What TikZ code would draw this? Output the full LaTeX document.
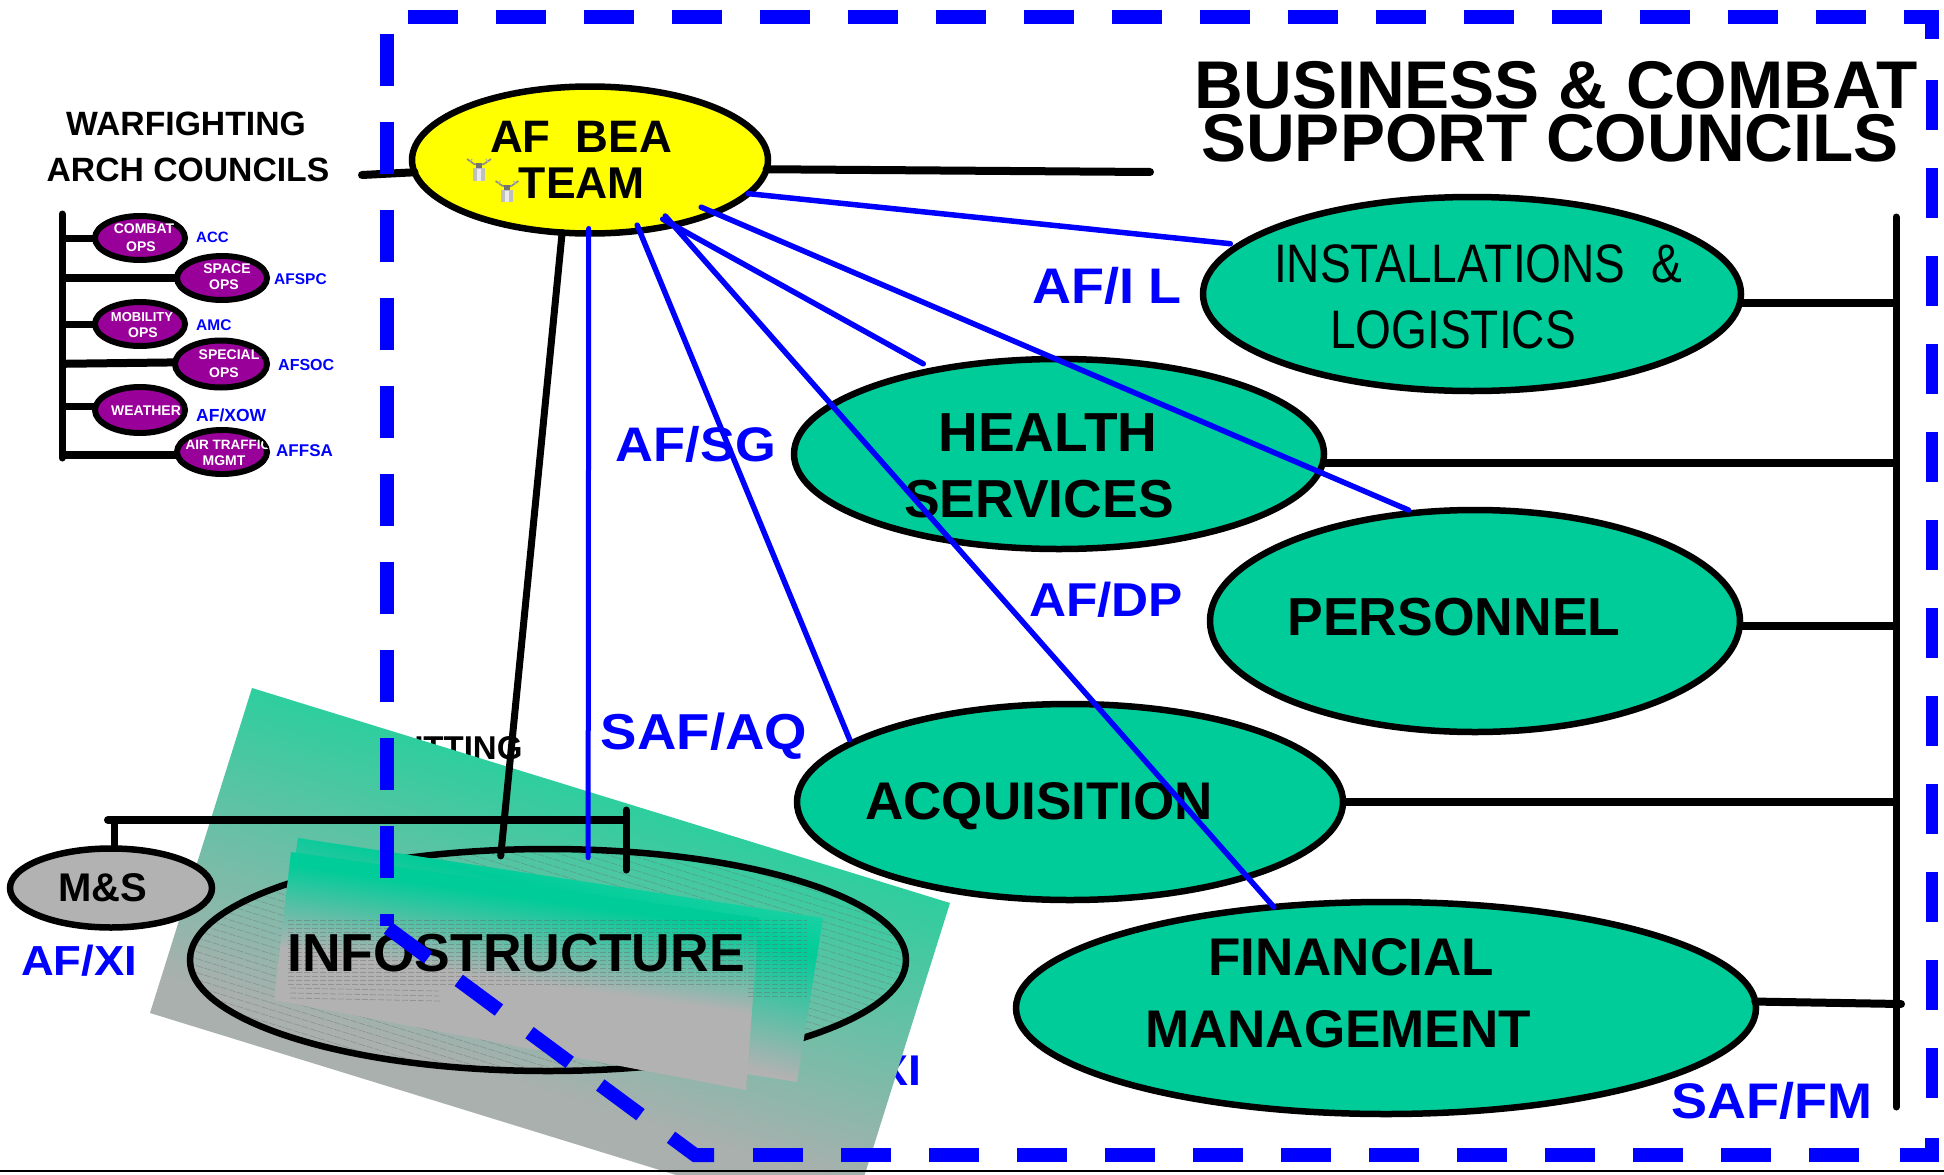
\documentclass[tikz,border=0pt]{standalone}
\usepackage{fontspec}
\usetikzlibrary{shapes.geometric}
\setmainfont{Liberation Sans}
\newfontfamily\narrowfam[FakeStretch=.85]{Liberation Sans}
\newfontfamily\widefam[FakeStretch=1.08]{Liberation Sans}
\newcommand\fsz[1]{\fontsize{#1}{#1}\selectfont}
\definecolor{gr}{HTML}{00CC99}
\definecolor{gr2}{HTML}{2ECE9E}
\definecolor{gy}{HTML}{B2B2B2}
\definecolor{gy2}{HTML}{A9B0AE}
\definecolor{pur}{HTML}{990099}
\definecolor{bl}{HTML}{0000FF}
\definecolor{yl}{HTML}{FFFF00}
\pgfdeclareverticalshading{bigshade}{100bp}{color(0bp)=(gy2);color(42.3bp)=(gy2);color(60.2bp)=(gr2);color(100bp)=(gr2)}
\pgfdeclareverticalshading{innerA}{100bp}{color(0bp)=(gy);color(44.9bp)=(gy);color(56.1bp)=(gr);color(59.6bp)=(gr!90!white);color(100bp)=(gr!90!white)}
\pgfdeclareverticalshading{innerB}{100bp}{color(0bp)=(gy);color(48.9bp)=(gy);color(57.5bp)=(gr);color(100bp)=(gr)}
\tikzset{
  ell/.style={ellipse,draw=black,line width=6.5pt,inner sep=0pt,outer sep=0pt,minimum width=2*#1-4pt},
  gell/.style={ell=#1,fill=gr},
  pell/.style={ell=48pt,line width=6pt,fill=pur,minimum height=44pt,minimum width=90pt},
  txt/.style={inner sep=0pt,font=\bfseries\fsz{#1},text=black,align=center},
  ptxt/.style={inner sep=0pt,font=\bfseries\fsz{#1},text=white},
  slab/.style={inner sep=0pt,font=\bfseries\fsz{#1},text=bl},
  blab/.style={inner sep=0pt,font=\widefam\bfseries\fsz{#1},text=bl},
  bk/.style={draw=black,line width=#1,line cap=round},
  bline/.style={draw=bl,line width=5.5pt,line cap=round},
  bord/.style={draw=bl,line width=14pt,line cap=butt,miter limit=10,dash pattern=on 50pt off 38pt},
}
\begin{document}
\begin{tikzpicture}[x=1pt,y=-1pt]
\useasboundingbox (0,0) rectangle (1944,1175);
\fill[white] (0,0) rectangle (1944,1175);

% texts that lie behind the tilted panel
\node[txt=33,anchor=center] (xcut) at (385,748) {CROSS-CUTTING};
\node[txt=33,anchor=center] (xarch) at (387,793) {ARCH COUNCILS};
\node[blab=43] (xi) at (862,1070) {AF/XI};

% tilted panel
\begin{scope}
  \clip (252,688) -- (950,903) -- (848,1228) -- (150,1013) -- cycle;
  \shade[shading=bigshade,shading angle=-17] (130,538) rectangle (970,1378);
\end{scope}

% infostructure ellipse with hatching
\begin{scope}
  \clip (548,960) ellipse [x radius=358, y radius=112];
  \foreach \yy in {620,627,...,1080}
    \draw[line width=.6pt,draw=black!60,opacity=.4,dash pattern=on 7pt off 1.5pt] (188,\yy) -- (909,\yy+223);
\end{scope}
\node[ell=360pt,minimum height=222pt] (infra) at (548,960) {};

% overlay panels
\begin{scope}
  \clip (298,838) -- (823,918) -- (797,1082) -- (274,1000) -- cycle;
  \shade[shading=innerA,shading angle=-14] (270,680) rectangle (830,1240);
\end{scope}
\begin{scope}
  \clip (291,852) -- (759,918) -- (746,1090) -- (274,1000) -- cycle;
  \shade[shading=innerB,shading angle=-8] (271,725) rectangle (761,1215);
\end{scope}
\foreach \yy in {920,924,...,984}
  \draw[line width=.8pt,draw=black!60,opacity=.4,dash pattern=on 6pt off 2pt] (288,\yy) -- (746,\yy);
\foreach \yy in {920,924,...,996}
  \draw[line width=.8pt,draw=black!60,opacity=.4,dash pattern=on 6pt off 2pt] (748,\yy) -- (807,\yy);
\foreach \yy in {988,993,998}
  \draw[line width=.8pt,draw=black!60,opacity=.4,dash pattern=on 6pt off 2pt] (290,\yy) -- (340+\yy/10,\yy+3);
\node[txt=53.5] (tinfra) at (516,953) {INFOSTRUCTURE};

% warfighting councils
\node[txt=33.7] (wf) at (186,124) {WARFIGHTING};
\node[txt=33.7] (arch) at (188,170) {ARCH COUNCILS};
\coordinate (lbusa) at (62,214);
\coordinate (lbusb) at (62,458);
\node[pell] (combat) at (140,238) {};
\node[pell] (space) at (222,278) {};
\node[pell] (mobil) at (140,324) {};
\node[pell,minimum width=92pt,minimum height=47pt] (special) at (221,364) {};
\node[pell,minimum height=46pt] (weather) at (140,410) {};
\node[pell] (air) at (222,452) {};
\draw[bk=7pt] (lbusa) -- (lbusb);
\draw[bk=7pt,line cap=butt] (combat.180) -- (combat.180 -| lbusa);
\draw[bk=8pt,line cap=butt] (space.180) -- (space.180 -| lbusa);
\draw[bk=7pt,line cap=butt] (mobil.180) -- (mobil.180 -| lbusa);
\draw[bk=8pt,line cap=butt] (special.178) -- ([yshift=1pt]special.181 -| lbusa);
\draw[bk=7pt,line cap=butt] (weather.176) -- (weather.176 -| lbusa);
\draw[bk=8pt,line cap=butt] (air.184) -- (air.184 -| lbusa);
\node[ptxt=14] (t1) at (144,229) {COMBAT};
\node[ptxt=14] (t2) at (141,247) {OPS};
\node[ptxt=14] (t3) at (227,269) {SPACE};
\node[ptxt=14] (t4) at (224,285) {OPS};
\node[ptxt=13] (t5) at (142,317) {MOBILITY};
\node[ptxt=14] (t6) at (143,333) {OPS};
\node[ptxt=14] (t7) at (229,355) {SPECIAL};
\node[ptxt=14] (t8) at (224,373) {OPS};
\node[ptxt=14] (t9) at (146,411) {WEATHER};
\begin{scope}
  \clip (222,452) ellipse [x radius=46, y radius=23];
  \node[ptxt=13.5] (t10) at (228,445) {AIR TRAFFIC};
\end{scope}
\node[ptxt=14] (t11) at (224,461) {MGMT};
\node[slab=15,anchor=west] (l1) at (196,237) {ACC};
\node[slab=15.5,anchor=west] (l2) at (274,279) {AFSPC};
\node[slab=15.5,anchor=west] (l3) at (196,325) {AMC};
\node[slab=16,anchor=west] (l4) at (278,365) {AFSOC};
\node[slab=17.5,anchor=west] (l5) at (196,415) {AF/XOW};
\node[slab=17,anchor=west] (l6) at (276,451) {AFFSA};

% large councils
\node[gell=271pt,minimum height=194pt] (inst) at (1472,294) {};
\node[gell=267pt,minimum height=190pt] (health) at (1059,454) {};
\node[gell=267pt,minimum height=222pt] (pers) at (1475,621) {};
\node[gell=275pt,minimum height=196pt] (acq) at (1070,802) {};
\node[gell=372pt,minimum height=212pt] (fin) at (1386,1008) {};
\node[ell=180pt,minimum height=147pt,fill=yl] (bea) at (590,160) {};
\node[ell=103pt,minimum height=79pt,fill=gy] (ms) at (111,888) {};

% right bus
\coordinate (rbusa) at (1896,217);
\coordinate (rbusb) at (1896,1107);
\coordinate (rbusf) at (1901,1004);
\draw[bk=7pt] (rbusa) -- (rbusb);
\draw[bk=8pt,line cap=butt] (inst.-2) -- (inst.-2 -| rbusa);
\draw[bk=8pt,line cap=butt] (health.-2.5) -- (health.-2.5 -| rbusa);
\draw[bk=8pt,line cap=butt] (pers.-1.6) -- (pers.-1.6 -| rbusa);
\draw[bk=8pt,line cap=butt] (acq.0) -- (acq.0 -| rbusa);
\draw[bk=8pt] (fin.1) -- (rbusf);

% M&S bracket
\coordinate (brl) at (108,820);
\coordinate (brr) at (626,820);
\coordinate (brt) at (626,810);
\coordinate (brb) at (626,870);
\coordinate (msTop) at (114,820);
\draw[bk=8pt] (brl) -- (brr);
\draw[bk=7pt] (brt) -- (brb);
\draw[bk=7pt,line cap=butt] (msTop) -- (msTop |- ms.north);

% stubs from the team ellipse
\coordinate (stubl) at (362,175);
\coordinate (stubr) at (1150,172);
\draw[bk=8pt] (stubl) -- (bea.184);
\draw[bk=8pt] (bea.-3) -- (stubr);
\draw[bk=7pt,shorten >=-6pt] (bea.-111) -- (infra.113);

% council labels
\node[txt=67.5] (bc1) at (1556,85) {BUSINESS \& COMBAT};
\node[txt=67.5] (bc2) at (1550,138) {SUPPORT COUNCILS};
\node[inner sep=0pt,font=\narrowfam\fsz{54.2},align=center] (ti1) at (1478,264) {INSTALLATIONS\ \ \&};
\node[inner sep=0pt,font=\narrowfam\fsz{54.2}] (ti2) at (1453,330) {LOGISTICS};
\node[txt=55] (th1) at (1048,433) {HEALTH};
\node[txt=53.5] (th2) at (1039,499) {SERVICES};
\node[txt=53.5] (tp) at (1454,617) {PERSONNEL};
\node[txt=53] (ta) at (1039,806) {ACQUISITION};
\node[txt=53] (tf1) at (1351,957) {FINANCIAL};
\node[txt=53] (tf2) at (1338,1029) {MANAGEMENT};
\node[txt=40] (tms) at (103,888) {M\&S};
\node[txt=45.5] (tb1) at (581,137) {AF\ \ BEA};
\node[txt=44.5] (tb2) at (582,183) {TEAM};

% blue labels
\node[blab=50] (bil) at (1107,286) {AF/I L};
\node[blab=48.5] (bsg) at (696,444) {AF/SG};
\node[blab=47.5] (bdp) at (1106,600) {AF/DP};
\node[blab=50.5] (baq) at (704,736) {SAF/AQ};
\node[blab=50] (bfm) at (1772,1101) {SAF/FM};
\node[blab=42] (bxi) at (79,961) {AF/XI};

% blue connectors
\draw[bline,shorten <=-6pt,shorten >=4pt] (bea.-55) -- (acq.165.4);
\draw[bline,shorten <=-12pt] (bea.-38.5) -- (fin.138.8);
\draw[bline,shorten <=-12pt,shorten >=13pt] (bea.-38.5) -- (health.146.8);
\draw[bline,shorten <=-14pt,shorten >=7pt] (bea.-23.6) -- (pers.119.9);
\draw[bline,shorten >=10pt] (bea.-12.7) -- (inst.168.3);
\draw[bline,line width=5pt,shorten <=-5pt,shorten >=-8pt] (bea.-91) -- (infra.70.4);

% heraldic figures
\foreach \cx/\cy/\s/\nm in {479/159/1/fa,507/181/.95/fb}{
  \begin{scope}[shift={(\cx,\cy)},scale=\s]
    \draw[draw=black!45,line width=1.6pt] (-12,0) -- (-5,5) -- (0,6) -- (5,5) -- (12,0);
    \draw[draw=black!30,line width=1.2pt] (-9,3) -- (-7,0) (9,3) -- (7,0);
    \fill[black!55] (-3,4) rectangle (3,9);
    \fill[black!25] (-6,9) rectangle (6,22);
    \fill[black!8] (-2,10) rectangle (2,22);
  \end{scope}
}

% dashed frame
\draw[bord] (408,17) -- (1932,17) -- (1932,42);
\draw[bord,line width=12pt] (1932,80) -- (1932,1105);
\draw[draw=bl,line width=14pt,miter limit=10] (1900,1155) -- (1932,1155) -- (1932,1138);
\draw[bord] (753,1155) -- (1895,1155);
\draw[bord,dash pattern=on 52pt off 36pt] (387,34) -- (387,926);
\draw[bord,line join=miter] (388,928) -- (695,1155) -- (714,1155);

% page rule
\coordinate (rulea) at (0,1171);
\coordinate (ruleb) at (1944,1171);
\draw[draw=black,line width=2pt] (rulea) -- (ruleb);
\end{tikzpicture}
\end{document}
